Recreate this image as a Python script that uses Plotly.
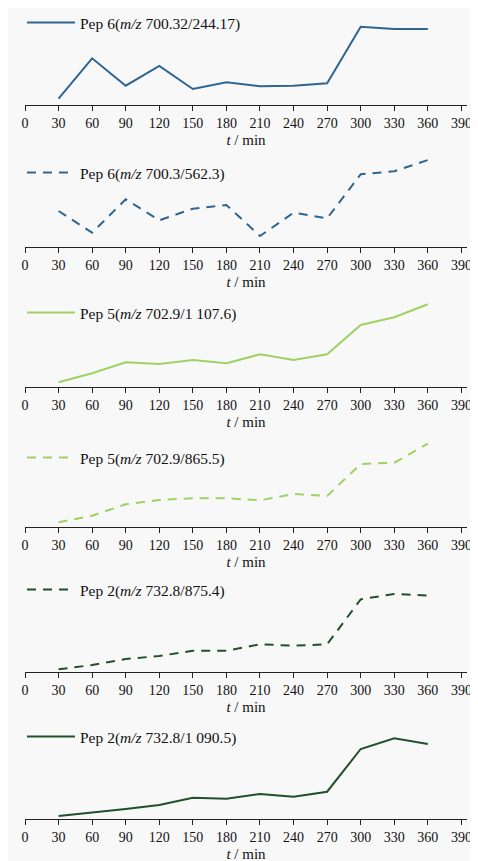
import plotly.graph_objects as go

t = [30, 60, 90, 120, 150, 180, 210, 240, 270, 300, 330, 360]
tick_vals = [0, 30, 60, 90, 120, 150, 180, 210, 240, 270, 300, 330, 360, 390]

pep6_244 = [6.3, 46.7, 19.3, 39.0, 16.0, 22.7, 18.7, 19.3, 21.7, 78.3, 76.0, 76.0]
pep6_562 = [35.7, 14.0, 47.4, 26.4, 38.0, 41.7, 10.7, 34.0, 28.4, 72.4, 75.4, 86.7]
pep5_1107 = [4.4, 13.4, 24.4, 22.7, 26.7, 23.4, 32.4, 26.7, 32.4, 61.7, 69.4, 82.4]
pep5_865 = [5.0, 11.6, 23.0, 27.3, 29.0, 29.0, 27.0, 33.3, 31.3, 63.3, 64.6, 83.6]
pep2_875 = [2.4, 6.7, 12.7, 15.7, 21.0, 21.0, 27.4, 26.0, 27.4, 72.4, 77.7, 76.2]
pep2_1090 = [3.0, 6.3, 10.0, 14.0, 21.3, 20.3, 25.0, 22.3, 27.3, 70.0, 80.7, 75.0]

names = [
    "Pep 6(<i>m/z</i> 700.32/244.17)",
    "Pep 6(<i>m/z</i> 700.3/562.3)",
    "Pep 5(<i>m/z</i> 702.9/1 107.6)",
    "Pep 5(<i>m/z</i> 702.9/865.5)",
    "Pep 2(<i>m/z</i> 732.8/875.4)",
    "Pep 2(<i>m/z</i> 732.8/1 090.5)",
]
series = [pep6_244, pep6_562, pep5_1107, pep5_865, pep2_875, pep2_1090]
colors = ["#2f6591", "#2f6591", "#9fd163", "#9fd163", "#21502c", "#21502c"]
dashes = ["solid", "9px,7px", "solid", "9px,7px", "9px,7px", "solid"]

# the page body adds an 8px offset; positions below are in figure pixels
W, H = 478, 861
OFF = 8
ML, MR = 25 - OFF, W - (467 - OFF)
axis_px = [p - OFF for p in [105, 246.7, 386.7, 527.3, 671.7, 819]]
legend_px = [p - OFF for p in [23, 173, 313, 458, 590, 737]]
SPAN = 95
FONT = "'Liberation Serif', 'Times New Roman', 'DejaVu Serif', serif"
PW = W - ML - MR

fig = go.Figure()
layout = dict(
    width=W, height=H,
    margin=dict(l=ML, r=MR, t=0, b=0, autoexpand=False),
    paper_bgcolor="#f8f8f8", plot_bgcolor="#f8f8f8",
    font=dict(family=FONT, size=14, color="#111"),
    showlegend=True,
)

for i in range(6):
    k = "" if i == 0 else str(i + 1)
    lg = "legend" + k
    fig.add_trace(go.Scatter(
        x=t, y=series[i], mode="lines", name=names[i],
        line=dict(color=colors[i], width=2, dash=dashes[i]),
        xaxis="x" + k, yaxis="y" + k, legend=lg, showlegend=True,
    ))
    bottom = 1 - axis_px[i] / H
    top = 1 - (axis_px[i] - SPAN) / H
    layout["xaxis" + k] = dict(
        domain=[0, 1], anchor="y" + k, range=[0, 395], automargin=False,
        tickvals=tick_vals, ticks="outside", ticklen=5, tickcolor="#222",
        showline=True, linecolor="#222", linewidth=1, showgrid=False,
        zeroline=False, tickfont=dict(size=14, family=FONT, color="#111"),
        title=dict(text="<i>t</i> / min", standoff=4,
                   font=dict(size=15, family=FONT, color="#111")),
    )
    layout["yaxis" + k] = dict(
        domain=[bottom, top], anchor="x" + k, range=[0, SPAN],
        visible=False, automargin=False,
    )
    layout[lg] = dict(
        x=(14 - ML) / PW, xanchor="left", y=1 - legend_px[i] / H, yanchor="middle",
        bgcolor="rgba(0,0,0,0)", borderwidth=0,
        font=dict(size=15.5, family=FONT, color="#111"),
        itemwidth=48,
    )

fig.update_layout(**layout)
fig.write_html("out.html")
